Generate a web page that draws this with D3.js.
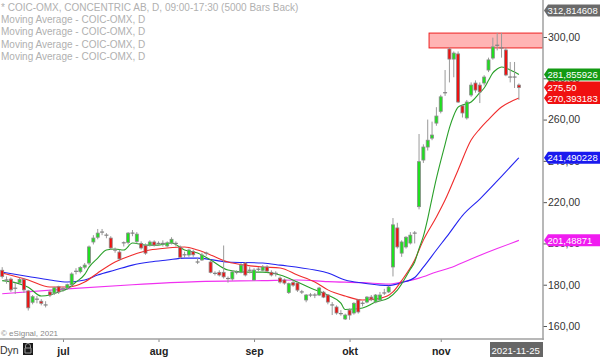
<!DOCTYPE html>
<html>
<head>
<meta charset="utf-8">
<script src="https://cdn.jsdelivr.net/npm/d3@7"></script>
<style>
  body { margin: 0; background: #fff; }
  svg { display: block; font-family: "Liberation Sans", Arial, sans-serif; }
</style>
</head>
<body>
<div id="chart"></div>
<script>
// dagliga staplar: datum, open, high, low, close
const candles = [
  ["2021-06-10", 187, 188.5, 183, 184], ["2021-06-11", 182.3, 184, 180.5, 182.3],
  ["2021-06-14", 182.7, 183.5, 176.5, 177.5], ["2021-06-15", 178.3, 181, 175.5, 178.3],
  ["2021-06-16", 181, 183.5, 180.5, 182.5], ["2021-06-17", 182.5, 183, 176, 177.5],
  ["2021-06-18", 177, 177.5, 167.5, 168.8], ["2021-06-21", 171.5, 175, 170.5, 174.2],
  ["2021-06-22", 173, 174.5, 171, 173], ["2021-06-23", 172, 173, 170, 171],
  ["2021-06-24", 170.2, 172, 169, 170.2], ["2021-06-28", 176.5, 177.5, 174, 175],
  ["2021-06-29", 176, 179, 175, 178.5], ["2021-06-30", 179, 179.5, 175.5, 176.5],
  ["2021-07-01", 178, 179, 176.5, 178], ["2021-07-02", 178.4, 180.5, 177.5, 180],
  ["2021-07-05", 180, 186, 179, 185.2], ["2021-07-06", 186.5, 188, 185, 186.5],
  ["2021-07-07", 186.3, 189, 185.5, 188.3], ["2021-07-08", 188.5, 190.5, 187.5, 189.5],
  ["2021-07-09", 190.5, 199, 189.5, 198.3], ["2021-07-12", 200.7, 204, 199.5, 202.6],
  ["2021-07-13", 203, 207, 202, 205], ["2021-07-14", 205.5, 207, 204, 205.5],
  ["2021-07-15", 204, 205, 202.5, 204], ["2021-07-16", 202.6, 203.5, 197, 197.8],
  ["2021-07-19", 196.8, 198, 195.5, 196.8], ["2021-07-20", 195.8, 197, 191.5, 192.5],
  ["2021-07-21", 200.3, 201, 198.5, 200.3], ["2021-07-22", 200.5, 205.5, 199.5, 205],
  ["2021-07-23", 205, 206.5, 203.5, 205], ["2021-07-26", 201, 205.5, 200, 204.5],
  ["2021-07-27", 200, 201, 197, 197.8], ["2021-07-28", 199, 200, 194.5, 195.3],
  ["2021-07-29", 199.2, 201.5, 198.5, 200.7], ["2021-07-30", 200.7, 201.5, 198.5, 199.2],
  ["2021-08-02", 200, 201, 199, 200], ["2021-08-03", 200, 201.5, 198.5, 200],
  ["2021-08-04", 198.8, 201, 198, 200.3], ["2021-08-05", 200.2, 203, 199.5, 202],
  ["2021-08-06", 200, 201, 198.5, 200], ["2021-08-09", 198.2, 199, 192.5, 193.3],
  ["2021-08-10", 194.5, 196, 193, 194.5], ["2021-08-11", 194.4, 197.5, 193.5, 196.8],
  ["2021-08-12", 196, 197, 193.5, 194.5], ["2021-08-13", 191, 193, 190, 191],
  ["2021-08-16", 192, 195.5, 191.5, 194.4], ["2021-08-17", 195.3, 196, 194, 195.3],
  ["2021-08-18", 191, 192, 185.5, 186], ["2021-08-19", 185.5, 186.5, 184.5, 185.5],
  ["2021-08-20", 186, 187, 184, 184.7], ["2021-08-23", 186, 199, 183, 183.8],
  ["2021-08-24", 183, 184, 181, 183], ["2021-08-25", 182.8, 187, 182, 186.2],
  ["2021-08-26", 186, 187, 185, 186], ["2021-08-27", 186, 190.5, 185.5, 189.5],
  ["2021-08-30", 190.5, 191, 184, 184.7], ["2021-08-31", 187, 188.5, 185.5, 187],
  ["2021-09-01", 182.3, 188, 182, 187.1], ["2021-09-02", 187.5, 188.5, 186.5, 187.5],
  ["2021-09-03", 187, 189.5, 186.5, 188.6], ["2021-09-06", 188.6, 189.5, 186, 186.6],
  ["2021-09-07", 186, 187, 184, 184.7], ["2021-09-08", 185.5, 186.5, 184, 185.5],
  ["2021-09-09", 183.2, 184, 180.5, 181.3], ["2021-09-10", 182.3, 183, 180, 180.8],
  ["2021-09-13", 176.2, 181, 175.5, 180.5], ["2021-09-14", 181, 182, 179, 179.8],
  ["2021-09-15", 180.8, 181.5, 176.5, 177.4], ["2021-09-16", 176.5, 177.5, 175.5, 176.5],
  ["2021-09-17", 172.6, 175.5, 171.5, 175], ["2021-09-20", 175, 176, 174, 175],
  ["2021-09-21", 175, 176, 173.5, 175], ["2021-09-22", 175, 179, 174.5, 178.4],
  ["2021-09-23", 176.4, 177, 173.5, 174], ["2021-09-24", 175, 175.5, 170.5, 171.6],
  ["2021-09-27", 170.2, 171.6, 165.3, 170.2], ["2021-09-28", 169.2, 170, 165.5, 166.3],
  ["2021-09-29", 166, 167.7, 165, 166], ["2021-09-30", 163.4, 166, 162.9, 165.3],
  ["2021-10-01", 167.7, 168.5, 163, 165.3], ["2021-10-04", 166.3, 171.5, 165.5, 171],
  ["2021-10-05", 172.6, 173, 166, 166.8], ["2021-10-06", 171, 172, 169.5, 171],
  ["2021-10-07", 171.6, 174.5, 171, 174], ["2021-10-08", 174, 175, 172, 173],
  ["2021-10-11", 171.6, 175.5, 171, 175], ["2021-10-12", 172.6, 176.5, 172, 175],
  ["2021-10-13", 176, 178, 175, 176], ["2021-10-14", 176.5, 179.5, 176, 178.9],
  ["2021-10-15", 188.6, 212.3, 184, 209], ["2021-10-18", 207.5, 210, 197.5, 198.3],
  ["2021-10-19", 195.3, 201.5, 193.5, 200.7], ["2021-10-20", 198.3, 203.5, 197.5, 203],
  ["2021-10-21", 200.2, 205.5, 199.5, 204], ["2021-10-22", 205, 206, 200, 205],
  ["2021-10-25", 217.8, 253, 216.5, 239.6], ["2021-10-26", 240.4, 248, 239, 246.7],
  ["2021-10-27", 246.7, 260, 245, 250], ["2021-10-28", 251, 259, 250, 252.5],
  ["2021-10-29", 258.3, 266, 257, 261.7], ["2021-11-01", 264, 272, 263, 271],
  ["2021-11-02", 273, 284, 271.5, 273], ["2021-11-03", 294.2, 295, 278, 289.3],
  ["2021-11-04", 289.3, 293, 280.5, 292.2], ["2021-11-05", 291.8, 293, 268, 268.5],
  ["2021-11-08", 266.6, 267.5, 261, 263.2], ["2021-11-09", 260.8, 269.5, 260, 268.5],
  ["2021-11-10", 271.9, 278, 271, 276.7], ["2021-11-11", 277.7, 279, 273, 274.3],
  ["2021-11-12", 276.7, 278, 268, 273.4], ["2021-11-15", 277.7, 281.5, 276.5, 280.6],
  ["2021-11-16", 284, 290, 283, 288.9], ["2021-11-17", 289.8, 299.7, 289, 295.2],
  ["2021-11-18", 296, 302, 293.5, 296], ["2021-11-19", 294.7, 302, 290, 294.7],
  ["2021-11-22", 293.7, 295, 281, 281.6], ["2021-11-23", 280.6, 287.9, 278, 280.6],
  ["2021-11-24", 280.6, 287.9, 275.3, 280.6], ["2021-11-25", 276.7, 277.5, 269.5, 275.5]
];

// glidande medelvärden (datum, värde)
const maGreen = [
  ["2021-06-10", 182], ["2021-06-15", 181], ["2021-06-18", 178.8], ["2021-06-23", 174.5],
  ["2021-06-28", 175], ["2021-06-30", 176.5], ["2021-07-02", 178], ["2021-07-06", 181.3],
  ["2021-07-08", 185], ["2021-07-09", 188.5], ["2021-07-13", 192.9], ["2021-07-15", 196.8],
  ["2021-07-19", 197.3], ["2021-07-21", 196.8], ["2021-07-23", 200.2], ["2021-07-28", 199.2],
  ["2021-08-02", 199.2], ["2021-08-05", 200.2], ["2021-08-10", 196.8], ["2021-08-13", 195.4],
  ["2021-08-18", 192], ["2021-08-24", 187.1], ["2021-08-30", 186.1], ["2021-09-03", 186.1],
  ["2021-09-09", 184.7], ["2021-09-15", 181.3], ["2021-09-20", 178.4], ["2021-09-24", 175],
  ["2021-09-29", 171.1], ["2021-09-30", 168], ["2021-10-04", 168.2], ["2021-10-06", 168.7],
  ["2021-10-11", 171.6], ["2021-10-14", 173.6], ["2021-10-18", 177.4], ["2021-10-21", 187.5],
  ["2021-10-22", 191], ["2021-10-25", 197.5], ["2021-10-26", 203.5], ["2021-10-27", 212],
  ["2021-10-28", 222], ["2021-10-29", 231.5], ["2021-11-01", 240], ["2021-11-02", 248],
  ["2021-11-03", 256], ["2021-11-04", 262], ["2021-11-05", 266], ["2021-11-08", 267],
  ["2021-11-10", 268.5], ["2021-11-12", 273], ["2021-11-15", 275.3], ["2021-11-16", 279],
  ["2021-11-17", 282.6], ["2021-11-18", 284.5], ["2021-11-19", 285.5], ["2021-11-22", 285],
  ["2021-11-23", 284], ["2021-11-24", 283], ["2021-11-25", 281.855926]
];
const maRed = [
  ["2021-06-10", 185.7], ["2021-06-18", 182.3], ["2021-06-28", 178.9], ["2021-07-02", 178.9],
  ["2021-07-08", 181.3], ["2021-07-13", 185.7], ["2021-07-19", 191], ["2021-07-23", 194.4],
  ["2021-07-29", 196.8], ["2021-08-04", 197.8], ["2021-08-10", 198.3], ["2021-08-13", 196.8],
  ["2021-08-18", 194.4], ["2021-08-24", 191], ["2021-08-30", 189.5], ["2021-09-03", 188.6],
  ["2021-09-09", 188.1], ["2021-09-15", 184.7], ["2021-09-21", 181.3], ["2021-09-24", 177.5],
  ["2021-09-30", 174.5], ["2021-10-06", 172.6], ["2021-10-12", 173.4], ["2021-10-15", 176.5],
  ["2021-10-19", 182], ["2021-10-22", 192], ["2021-10-26", 201.6], ["2021-10-29", 212.8],
  ["2021-11-02", 221], ["2021-11-05", 235.6], ["2021-11-10", 250.1], ["2021-11-12", 255.5],
  ["2021-11-16", 260], ["2021-11-19", 266.1], ["2021-11-23", 268.5], ["2021-11-25", 270.393183]
];
const maBlue = [
  ["2021-06-10", 186.1], ["2021-06-18", 184], ["2021-06-28", 182.3], ["2021-07-02", 181.3],
  ["2021-07-08", 182.3], ["2021-07-13", 184.7], ["2021-07-19", 187.1], ["2021-07-23", 189.5],
  ["2021-07-29", 191], ["2021-08-04", 192], ["2021-08-10", 192.9], ["2021-08-13", 192.9],
  ["2021-08-24", 191], ["2021-09-03", 190.5], ["2021-09-09", 189.5], ["2021-09-21", 187.1],
  ["2021-09-24", 185.7], ["2021-09-30", 182.3], ["2021-10-06", 180.8], ["2021-10-12", 179.8],
  ["2021-10-14", 179.6], ["2021-10-19", 181], ["2021-10-22", 183.5], ["2021-10-26", 188.5],
  ["2021-10-29", 196.8], ["2021-11-03", 205], ["2021-11-08", 213.5], ["2021-11-12", 221.5],
  ["2021-11-19", 232.5], ["2021-11-25", 241.490228]
];
const maMagenta = [
  ["2021-06-10", 175.6], ["2021-07-02", 178], ["2021-07-23", 180], ["2021-08-13", 181.5],
  ["2021-09-03", 182], ["2021-09-15", 182.3], ["2021-09-24", 181.5], ["2021-10-06", 181],
  ["2021-10-14", 180.3], ["2021-10-19", 181.3], ["2021-10-25", 183.2], ["2021-10-29", 186.2],
  ["2021-11-03", 188.1], ["2021-11-10", 192.5], ["2021-11-18", 197.5], ["2021-11-25", 201.48871]
];

const priceTicks = [160, 180, 200, 220, 240, 260, 280, 300];
const monthKeys = ["2021-07", "2021-08", "2021-09", "2021-10", "2021-11"];
const monthNames = ["jul", "aug", "sep", "okt", "nov"];
const zone = { from: "2021-10-28", low: 294.7, high: 301.9 };
const legendLines = [
  "* COIC-OMX, CONCENTRIC AB, D, 09:00-17:30 (5000 Bars Back)",
  "Moving Average - COIC-OMX, D",
  "Moving Average - COIC-OMX, D",
  "Moving Average - COIC-OMX, D",
  "Moving Average - COIC-OMX, D"
];
// etiketter vid prisaxeln: värde, text, färg
const priceTags = [
  [312.814608, "312,814608", "#6a6a6a"],
  [281.855926, "281,855926", "#139a13"],
  [275.5, "275,50", "#f01010"],
  [270.393183, "270,393183", "#f01010"],
  [241.490228, "241,490228", "#1a1aee"],
  [201.48871, "201,48871", "#f01cf0"]
];

const W = 600, H = 357;
const plotRight = 543, plotBottom = 339;

const svg = d3.select("#chart").append("svg")
  .attr("width", W)
  .attr("height", H);

const x = d3.scaleLinear().domain([0, candles.length - 1]).range([2.2, 518.9]);
const y = d3.scaleLinear().domain([160, 300]).range([326, 37]);
const idx = new Map(candles.map((d, i) => [d[0], i]));

svg.append("clipPath").attr("id", "plot")
  .append("rect").attr("x", 0).attr("y", 0).attr("width", plotRight).attr("height", plotBottom);

const plot = svg.append("g").attr("clip-path", "url(#plot)");

// motståndszon
plot.append("rect")
  .attr("x", x(idx.get(zone.from)) - 3)
  .attr("y", y(zone.high))
  .attr("width", plotRight - (x(idx.get(zone.from)) - 3))
  .attr("height", y(zone.low) - y(zone.high))
  .attr("fill", "#ffb4b4")
  .attr("stroke", "#ee2020")
  .attr("stroke-width", 1);

// medelvärdeslinjer
const line = d3.line()
  .x(d => x(idx.get(d[0])))
  .y(d => y(d[1]))
  .curve(d3.curveMonotoneX);

[[maMagenta, "#f030f0"], [maBlue, "#2424f0"], [maRed, "#f02c2c"], [maGreen, "#2aa02a"]]
  .forEach(([data, color]) => {
    plot.append("path")
      .datum(data)
      .attr("d", line)
      .attr("fill", "none")
      .attr("stroke", color)
      .attr("stroke-width", 1.1);
  });

// candlesticks
const bar = plot.selectAll("g.bar")
  .data(candles)
  .enter()
  .append("g")
  .attr("class", "bar");

bar.append("line")
  .attr("x1", (d, i) => x(i))
  .attr("x2", (d, i) => x(i))
  .attr("y1", d => y(d[2]))
  .attr("y2", d => y(d[3]))
  .attr("stroke", "#9a9a9a")
  .attr("stroke-width", 1);

bar.filter(d => d[1] !== d[4])
  .append("rect")
  .attr("x", d => x(idx.get(d[0])) - 1.5)
  .attr("y", d => y(Math.max(d[1], d[4])))
  .attr("width", 3)
  .attr("height", d => Math.max(1, Math.abs(y(d[1]) - y(d[4]))))
  .attr("fill", d => d[4] > d[1] ? "#1ee01e" : "#ee1111")
  .attr("stroke", "#8a8a8a")
  .attr("stroke-width", 0.8);

bar.filter(d => d[1] === d[4])
  .append("line")
  .attr("x1", d => x(idx.get(d[0])) - 2)
  .attr("x2", d => x(idx.get(d[0])) + 2)
  .attr("y1", d => y(d[1]))
  .attr("y2", d => y(d[1]))
  .attr("stroke", "#808080")
  .attr("stroke-width", 1.2);

// prisaxel
const yAxis = svg.append("g")
  .attr("transform", `translate(${plotRight},0)`)
  .call(d3.axisRight(y).tickValues(priceTicks).tickSize(4).tickPadding(1)
    .tickFormat(d => d.toFixed(2).replace(".", ",")));
yAxis.select(".domain").remove();
yAxis.selectAll("line").attr("stroke", "#555");
yAxis.selectAll("text")
  .attr("fill", "#333")
  .attr("font-size", "10.5px")
  .attr("font-family", "Liberation Sans, Arial, sans-serif");

svg.append("line")
  .attr("x1", plotRight).attr("x2", plotRight)
  .attr("y1", 0).attr("y2", plotBottom + 1)
  .attr("stroke", "#a0a0a0").attr("stroke-width", 1.5);

// tidsaxel
const monthIdx = monthKeys.map(k => candles.findIndex(d => d[0].startsWith(k)));
const xAxis = svg.append("g")
  .attr("transform", `translate(0,${plotBottom})`)
  .call(d3.axisBottom(x).tickValues(monthIdx).tickSize(3).tickPadding(6)
    .tickFormat((d, i) => monthNames[i]));
xAxis.select(".domain").remove();
xAxis.selectAll("line").attr("stroke", "#888");
xAxis.selectAll("text")
  .attr("fill", "#222")
  .attr("font-size", "10.5px")
  .attr("font-weight", "bold")
  .attr("font-family", "Liberation Sans, Arial, sans-serif");

svg.append("line")
  .attr("x1", 0).attr("x2", plotRight + 0.7)
  .attr("y1", plotBottom).attr("y2", plotBottom)
  .attr("stroke", "#a0a0a0").attr("stroke-width", 1.5);

// prisetiketter
const tags = svg.selectAll("g.tag")
  .data(priceTags)
  .enter()
  .append("g")
  .attr("class", "tag")
  .attr("transform", d => `translate(${plotRight + 1},${y(d[0])})`);

tags.append("path")
  .attr("d", "M0,0 L4,-6 L56,-6 L56,6 L4,6 Z")
  .attr("fill", d => d[2]);

tags.append("text")
  .text(d => d[1])
  .attr("x", 3.5)
  .attr("y", 3.6)
  .attr("fill", "#fff")
  .attr("font-size", "9.5px");

// förklaringstexter
svg.selectAll("text.legend")
  .data(legendLines)
  .enter()
  .append("text")
  .attr("class", "legend")
  .text(d => d)
  .attr("x", 1)
  .attr("y", (d, i) => 11 + i * 12.2)
  .attr("fill", "#b0b0b0")
  .attr("font-size", "10px");

svg.append("text")
  .text("© eSignal, 2021")
  .attr("x", 1).attr("y", 336)
  .attr("fill", "#888")
  .attr("font-size", "8px");

// nedre raden
svg.append("text")
  .text("Dyn")
  .attr("x", 0).attr("y", 354)
  .attr("fill", "#333")
  .attr("font-size", "10.5px");

svg.append("rect")
  .attr("x", 23).attr("y", 343).attr("width", 10).attr("height", 12)
  .attr("fill", "#1a1a1a");
svg.append("path")
  .attr("d", "M25.5,348 v-2 a2.5,2.5 0 0 1 5,0 v2 M25,348 h6 v5 h-6 Z")
  .attr("fill", "none")
  .attr("stroke", "#9a9a9a")
  .attr("stroke-width", 1);

svg.append("rect")
  .attr("x", 490).attr("y", 342).attr("width", 53).attr("height", 15)
  .attr("fill", "#666");
svg.append("text")
  .text(candles[candles.length - 1][0])
  .attr("x", 491.5).attr("y", 353.5)
  .attr("fill", "#fff")
  .attr("font-size", "9.6px");
</script>
</body>
</html>
